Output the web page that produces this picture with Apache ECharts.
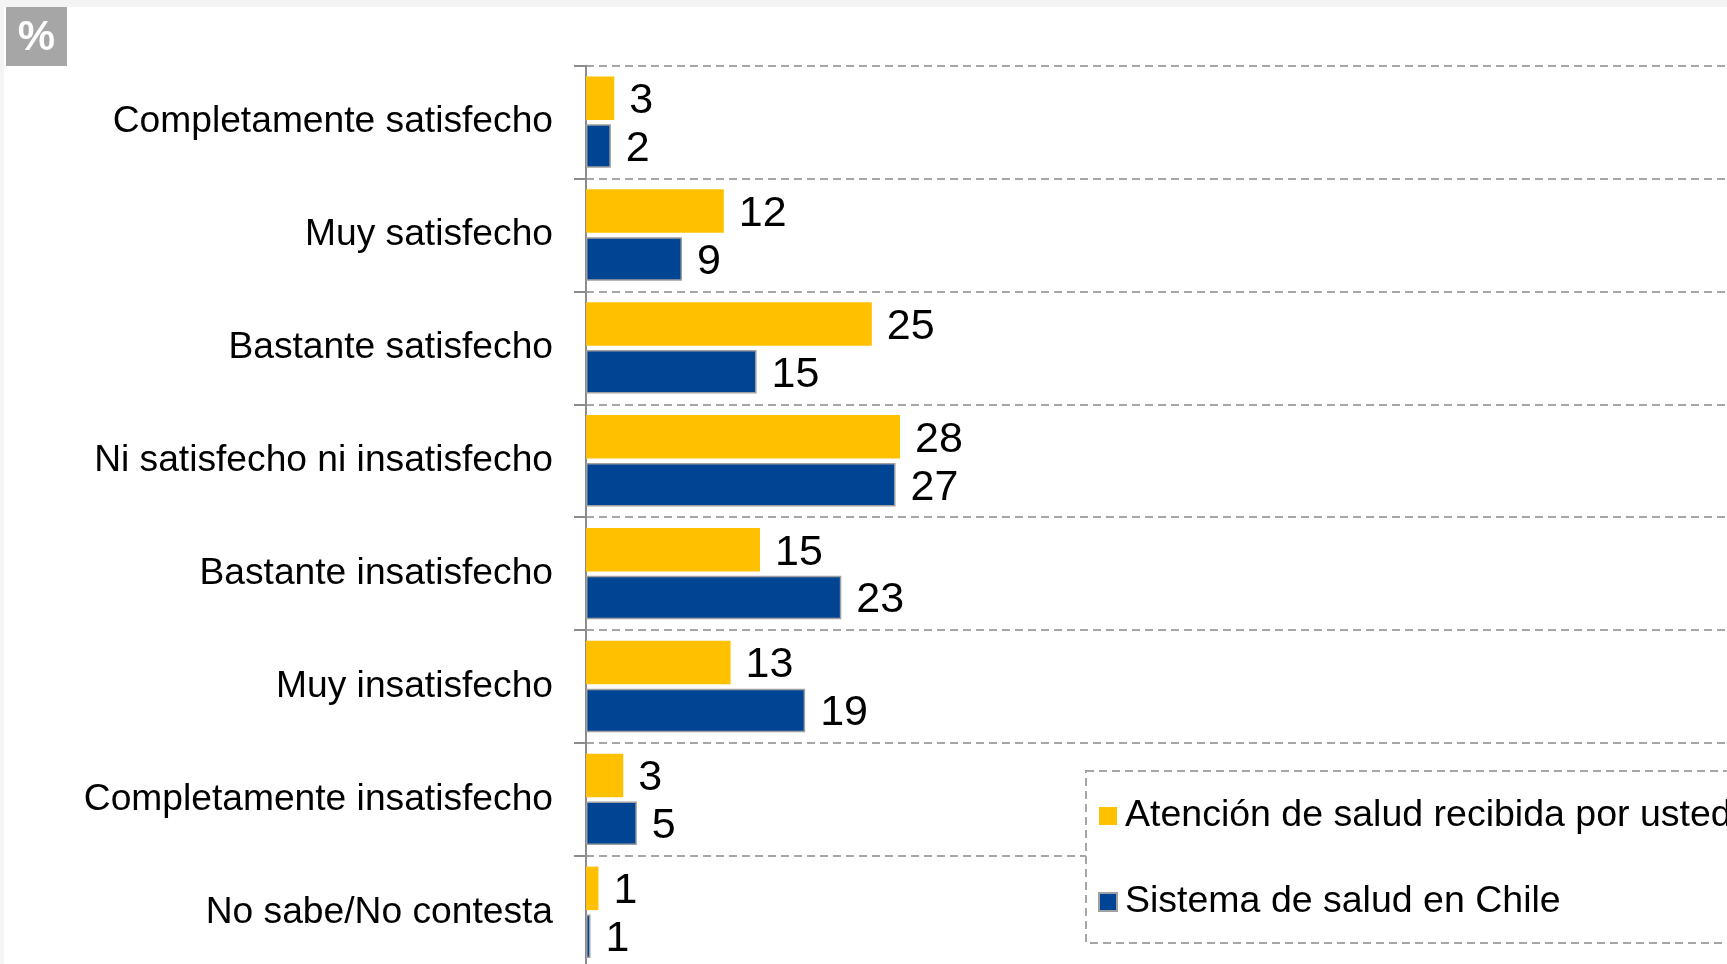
<!DOCTYPE html>
<html>
<head>
<meta charset="utf-8">
<script src="https://cdn.jsdelivr.net/npm/echarts@6/dist/echarts.min.js"></script>
<style>
html,body{margin:0;padding:0;background:#fff;}
#chart{width:1727px;height:964px;}
</style>
</head>
<body>
<div id="chart"></div>
<script>
var categories = ['Completamente satisfecho','Muy satisfecho','Bastante satisfecho','Ni satisfecho ni insatisfecho','Bastante insatisfecho','Muy insatisfecho','Completamente insatisfecho','No sabe/No contesta'];
var seriesNames = ['Atención de salud recibida por usted','Sistema de salud en Chile'];
// bar lengths
var atencionValues = [2.5, 12.2, 25.3, 27.8, 15.4, 12.8, 3.3, 1.1];
var sistemaValues  = [2.2, 8.5, 15.1, 27.4, 22.6, 19.4, 4.5, 0.4];
// printed labels
var atencionLabels = [3, 12, 25, 28, 15, 13, 3, 1];
var sistemaLabels  = [2, 9, 15, 27, 23, 19, 5, 1];

var FONT = '"Liberation Sans", Arial, sans-serif';
var chart = echarts.init(document.getElementById('chart'), null, {renderer:'canvas'});

function labelCfg(arr){
  return {
    show:true, position:'right', distance:15, offset:[0,3],
    fontSize:43, color:'#000', fontFamily:FONT,
    formatter:function(p){ return String(arr[p.dataIndex]); }
  };
}

chart.setOption({
  animation:false,
  backgroundColor:'#fff',
  textStyle:{fontFamily:FONT},
  grid:{left:586, top:65.7, width:1141, height:903, containLabel:false, outerBoundsMode:'none'},
  xAxis:{
    type:'value', min:0, max:101,
    axisLine:{show:false}, axisTick:{show:false}, axisLabel:{show:false}, splitLine:{show:false}
  },
  yAxis:{
    type:'category', inverse:true, data:categories,
    axisLine:{show:true, lineStyle:{color:'#8c8c8c', width:2}},
    axisTick:{show:true, length:12, lineStyle:{color:'#8c8c8c', width:2}},
    axisLabel:{fontSize:37.2, color:'#000', margin:33, fontFamily:FONT, padding:[5,0,0,0]},
    splitLine:{show:true, lineStyle:{color:'#a6a6a6', width:2, type:[8,5]}}
  },
  legend:{
    orient:'vertical', left:1098, top:796, padding:0,
    itemWidth:18, itemHeight:18, itemGap:46, z:200,
    icon:'rect',
    textStyle:{fontSize:37.5, color:'#000', fontFamily:FONT, lineHeight:40, padding:[0,0,0,3]},
    data:seriesNames
  },
  graphic:[
    {type:'rect', z:-10, silent:true, shape:{x:0,y:0,width:1727,height:7}, style:{fill:'#f4f4f4'}},
    {type:'rect', z:-10, silent:true, shape:{x:0,y:0,width:4,height:964}, style:{fill:'#f4f4f4'}},
    {type:'rect', z:100, silent:true, shape:{x:1086,y:771,width:700,height:172},
      style:{fill:'#fff', stroke:'#a6a6a6', lineWidth:2, lineDash:[8,5]}},
    {type:'rect', z:100, silent:true, shape:{x:6,y:7,width:61,height:59}, style:{fill:'#a6a6a6'}},
    {type:'text', z:101, silent:true, x:36.5, y:38,
      style:{text:'%', fill:'#fff', font:'bold 42px "Liberation Sans", Arial, sans-serif', align:'center', verticalAlign:'middle'}}
  ],
  series:[
    {
      name:seriesNames[0], type:'bar', data:atencionValues,
      barWidth:43.5, barGap:'10%',
      itemStyle:{color:'#FFC000'},
      label:labelCfg(atencionLabels)
    },
    {
      name:seriesNames[1], type:'bar', data:sistemaValues,
      barWidth:43.5, barGap:'10%',
      itemStyle:{color:'#004494', borderColor:'#a0a0a0', borderWidth:1.5},
      label:labelCfg(sistemaLabels)
    }
  ]
});
</script>
</body>
</html>
